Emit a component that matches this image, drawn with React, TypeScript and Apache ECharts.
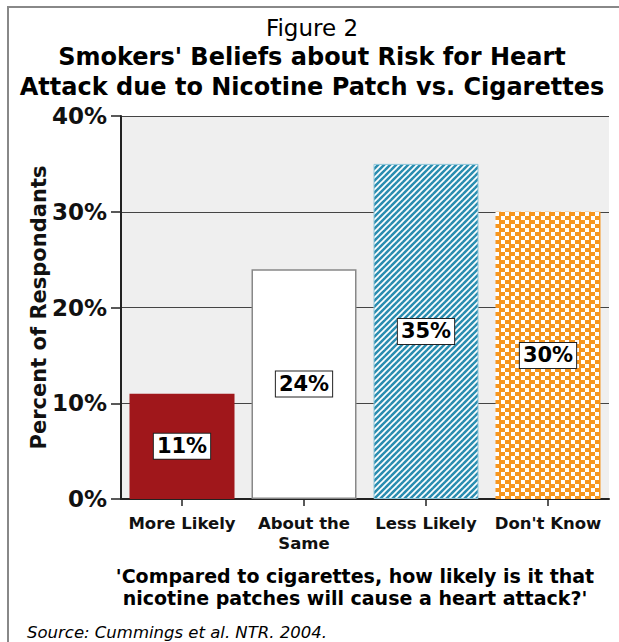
import React, { useEffect, useRef } from "react";
import * as echarts from "echarts";

const categories = ["More Likely", "About the\nSame", "Less Likely", "Don't Know"];
const values = [11, 24, 35, 30];
const yTicks = [0, 10, 20, 30, 40];

const titleLines = [
  "Figure 2",
  "Smokers' Beliefs about Risk for Heart",
  "Attack due to Nicotine Patch vs. Cigarettes",
];
const questionLines = [
  "'Compared to cigarettes, how likely is it that",
  "nicotine patches will cause a heart attack?'",
];
const sourceText = "Source: Cummings et al. NTR. 2004.";
const yName = "Percent of Respondants";

const FONT = '"DejaVu Sans", Verdana, sans-serif';

function makeStripes() {
  const c = document.createElement("canvas");
  c.width = 6;
  c.height = 6;
  const ctx = c.getContext("2d")!;
  ctx.fillStyle = "#2a8db0";
  ctx.fillRect(0, 0, 6, 6);
  ctx.strokeStyle = "#ffffff";
  ctx.lineWidth = 1.7;
  for (const k of [-6, 0, 6]) {
    ctx.beginPath();
    ctx.moveTo(k - 1, 7);
    ctx.lineTo(k + 7, -1);
    ctx.stroke();
  }
  return c;
}

function makeChecker() {
  const c = document.createElement("canvas");
  c.width = 10;
  c.height = 8;
  const ctx = c.getContext("2d")!;
  ctx.fillStyle = "#f7961e";
  ctx.fillRect(0, 0, 10, 8);
  ctx.fillStyle = "#ffffff";
  ctx.fillRect(1, 0, 4, 4);
  ctx.fillRect(5, 4, 4, 4);
  return c;
}

export default function App() {
  const ref = useRef<HTMLDivElement>(null);
  useEffect(() => {
    if (!ref.current) return;
    const chart = echarts.init(ref.current, null, { renderer: "svg" });
    const stripes = makeStripes();
    const checker = makeChecker();
    const barStyles = [
      { color: "#a0171b" },
      { color: "#ffffff", borderColor: "#888888", borderWidth: 1.5 },
      { color: { image: stripes, repeat: "repeat" }, borderColor: "#8cc6da", borderWidth: 1 },
      { color: { image: checker, repeat: "repeat" } },
    ];
    const graphic: any[] = [
      {
        type: "polyline",
        shape: { points: [[8, 642], [8, 7], [619, 7]] },
        style: { stroke: "#888888", lineWidth: 2, fill: null },
        silent: true,
      },
    ];
    titleLines.forEach((t, i) => {
      graphic.push({
        type: "text",
        x: 312,
        y: [28, 57, 87][i],
        style: {
          text: t,
          fill: "#000",
          font: (i === 0 ? "normal 23px " : "bold 24px ") + FONT,
          textAlign: "center",
          textVerticalAlign: "middle",
        },
      });
    });
    questionLines.forEach((t, i) => {
      graphic.push({
        type: "text",
        x: 355,
        y: [576, 598][i],
        style: {
          text: t,
          fill: "#000",
          font: "bold 19px " + FONT,
          textAlign: "center",
          textVerticalAlign: "middle",
        },
      });
    });
    graphic.push({
      type: "text",
      x: 27,
      y: 632,
      style: {
        text: sourceText,
        fill: "#000",
        font: "italic 16.5px " + FONT,
        textAlign: "left",
        textVerticalAlign: "middle",
      },
    });

    chart.setOption({
      animation: false,
      grid: {
        left: 121,
        right: 10,
        top: 116,
        bottom: 143,
        show: true,
        backgroundColor: "#efefef",
        borderWidth: 0,
      },
      graphic,
      xAxis: {
        type: "category",
        data: categories,
        axisLine: { lineStyle: { color: "#222", width: 2 } },
        axisTick: { show: true, alignWithLabel: true, length: 7, lineStyle: { color: "#222", width: 1.5 } },
        axisLabel: {
          interval: 0,
          fontFamily: FONT,
          fontWeight: "bold",
          fontSize: 16.5,
          color: "#111",
          margin: 14,
          lineHeight: 20,
        },
      },
      yAxis: {
        type: "value",
        min: yTicks[0],
        max: yTicks[yTicks.length - 1],
        interval: 10,
        name: yName,
        nameLocation: "middle",
        nameGap: 72,
        nameMoveOverlap: false,
        nameTextStyle: { fontFamily: FONT, fontWeight: "bold", fontSize: 21, color: "#111" },
        axisLine: { show: true, lineStyle: { color: "#222", width: 2 } },
        axisTick: { show: true, length: 10, lineStyle: { color: "#222", width: 1.5 } },
        axisLabel: {
          formatter: "{value}%",
          fontFamily: FONT,
          fontWeight: "bold",
          fontSize: 23,
          color: "#111",
          margin: 14,
        },
        splitLine: { show: true, lineStyle: { color: "#444", width: 1.2 } },
      },
      series: [
        {
          type: "bar",
          barWidth: 105,
          data: values.map((v, i) => ({ value: v, itemStyle: barStyles[i] })),
          label: {
            show: true,
            position: "inside",
            formatter: "{c}%",
            fontFamily: FONT,
            fontWeight: "bold",
            fontSize: 21,
            color: "#000",
            backgroundColor: "#ffffff",
            borderColor: "#222",
            borderWidth: 1,
            padding: [3, 3, 1, 3],
          },
        },
      ],
    });
    return () => chart.dispose();
  }, []);
  return (
    <div
      ref={ref}
      style={{ position: "fixed", left: 0, top: 0, width: 619, height: 642, background: "#fff" }}
    />
  );
}
